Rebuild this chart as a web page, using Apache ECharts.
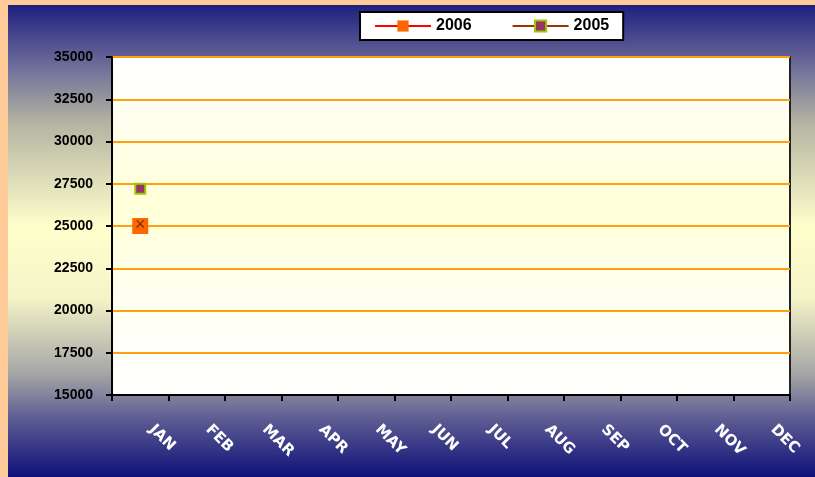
<!DOCTYPE html>
<html><head><meta charset="utf-8">
<script src="https://cdn.jsdelivr.net/npm/echarts@6/dist/echarts.min.js"></script>
<style>
html,body{margin:0;padding:0;background:#FFCC99;width:815px;height:477px;overflow:hidden}
#c{position:absolute;left:8px;top:5px;width:807px;height:472px}
</style></head><body><div id="c"></div>
<script>
var months = ['JAN','FEB','MAR','APR','MAY','JUN','JUL','AUG','SEP','OCT','NOV','DEC'];
var s2006 = [25000, null, null, null, null, null, null, null, null, null, null, null];
var s2005 = [27200, null, null, null, null, null, null, null, null, null, null, null];
var yMin = 15000, yMax = 35000, yStep = 2500;

var chart = echarts.init(document.getElementById('c'), null, {renderer:'canvas'});
var font = '"Liberation Sans", Arial, sans-serif';
chart.setOption({
  animation:false,
  backgroundColor:{type:'linear',x:0,y:0,x2:0,y2:1,colorStops:[
    {offset:0,color:'#1f1f80'},
    {offset:0.13,color:'#6e6e9a'},
    {offset:0.25,color:'#b4b4a2'},
    {offset:0.47,color:'#ffffcc'},
    {offset:0.62,color:'#f4f4c8'},
    {offset:0.78,color:'#a6a6a6'},
    {offset:0.88,color:'#5a5a92'},
    {offset:1,color:'#10107a'}
  ]},
  legend:{
    left:352, top:7, width:262, height:29,
    padding:[6,14,6,14],
    backgroundColor:'#ffffff', borderColor:'#000000', borderWidth:2,
    itemWidth:56, itemHeight:14, itemGap:40,
    textStyle:{fontFamily:font,fontWeight:'bold',fontSize:16,color:'#000'},
    data:['2006','2005']
  },
  grid:{left:104, right:25, top:52, bottom:82, show:true,
    borderColor:'#222', borderWidth:2,
    backgroundColor:{type:'linear',x:0,y:0,x2:0,y2:1,colorStops:[
      {offset:0,color:'#ffffff'},
      {offset:0.45,color:'#ffffd8'},
      {offset:0.7,color:'#fffff0'},
      {offset:1,color:'#ffffff'}
    ]}
  },
  xAxis:{type:'category', data:months, boundaryGap:true,
    axisLine:{lineStyle:{color:'#000',width:2}},
    axisTick:{show:true,length:6,lineStyle:{color:'#000',width:2}},
    axisLabel:{rotate:-45, margin:21, padding:[0,0,0,16], color:'#fff',
      fontFamily:'"DejaVu Sans", sans-serif', fontWeight:'bold', fontSize:15, interval:0},
    splitLine:{show:false}
  },
  yAxis:{type:'value', min:yMin, max:yMax, interval:yStep,
    axisLine:{show:true,lineStyle:{color:'#000',width:2}},
    axisTick:{show:true,length:6,lineStyle:{color:'#000',width:2}},
    axisLabel:{margin:19, color:'#000', fontFamily:font, fontWeight:'bold', fontSize:14,
      formatter:function(v){return String(v);}},
    splitLine:{show:true,lineStyle:{color:'#FFA010',width:2}}
  },
  series:[
    {name:'2006', type:'line', data:s2006, connectNulls:false,
      symbol:'rect', symbolSize:16, showAllSymbol:true,
      lineStyle:{color:'#FF0000',width:3},
      itemStyle:{color:'#FF6600'},
      label:{show:true, position:'inside', formatter:'×', color:'#7a3300', fontSize:18, fontFamily:font, offset:[0,-1]},
      z:3
    },
    {name:'2005', type:'line', data:s2005, connectNulls:false,
      symbol:'rect', symbolSize:10, showAllSymbol:true,
      lineStyle:{color:'#993300',width:3},
      itemStyle:{color:'#993366', borderColor:'#99CC00', borderWidth:2},
      z:4
    }
  ]
});
</script></body></html>
